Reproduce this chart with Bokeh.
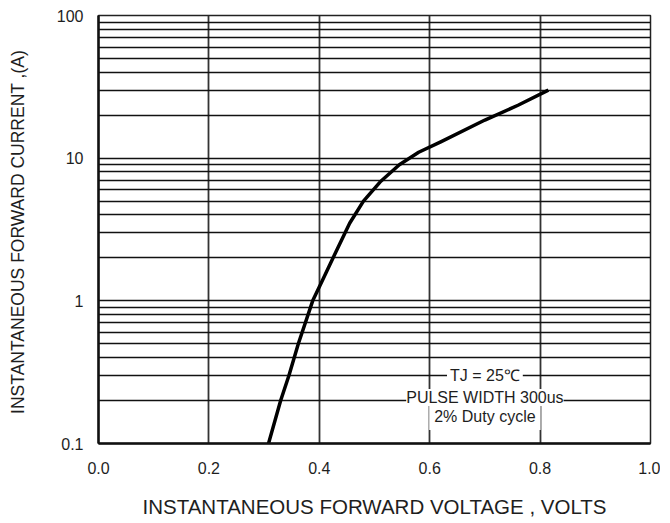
from bokeh.plotting import figure
from bokeh.models import FixedTicker, Label, ColumnDataSource
from bokeh.embed import file_html
from bokeh.resources import INLINE

# --- data ---
voltage = [0.308, 0.330, 0.345, 0.362, 0.388, 0.406, 0.430, 0.455, 0.480,
           0.510, 0.545, 0.580, 0.620, 0.700, 0.760, 0.815]
current = [0.1, 0.2, 0.3, 0.5, 1.0, 1.4, 2.2, 3.5, 5.0,
           6.8, 9.0, 11.0, 13.0, 18.5, 23.5, 30.0]

x_ticks = [0.0, 0.2, 0.4, 0.6, 0.8, 1.0]
x_tick_labels = ["0.0", "0.2", "0.4", "0.6", "0.8", "1.0"]
y_ticks = [0.1, 1, 10, 100]
y_tick_labels = ["0.1", "1", "10", "100"]
y_minor = [d * k for d in (0.1, 1, 10) for k in range(2, 10)]

notes = ["TJ = 25\u2103", "PULSE WIDTH 300us", "2% Duty cycle"]
note_x = 0.70
note_y = [0.3, 0.2]

FONT = "Liberation Sans"
TXT = "#1e1e1e"

p = figure(width=660, height=520, y_axis_type="log",
           x_range=(0.0, 1.0), y_range=(0.1, 100),
           output_backend="svg", toolbar_location=None,
           min_border_left=98, min_border_right=10,
           min_border_top=15, min_border_bottom=77)

src = ColumnDataSource(dict(v=voltage, i=current))
p.line("v", "i", source=src, line_color="black", line_width=3.5, line_join="round")

# axes
p.xaxis.ticker = FixedTicker(ticks=x_ticks)
p.xaxis.major_label_overrides = {t: s for t, s in zip(x_ticks, x_tick_labels)}
p.yaxis.ticker = FixedTicker(ticks=y_ticks, minor_ticks=y_minor)
p.yaxis.major_label_overrides = {t: s for t, s in zip(y_ticks, y_tick_labels)}

for ax in (p.xaxis[0], p.yaxis[0]):
    ax.major_tick_line_color = None
    ax.minor_tick_line_color = None
    ax.axis_line_color = "#111111"
    ax.axis_line_width = 2.5
    ax.major_label_text_font = FONT
    ax.major_label_text_font_size = "16px"
    ax.major_label_text_color = TXT
    ax.axis_label_text_font = FONT
    ax.axis_label_text_font_style = "normal"
    ax.axis_label_text_color = TXT

p.xaxis.major_label_standoff = 12
p.yaxis.major_label_standoff = 9
p.xaxis.axis_label = "INSTANTANEOUS FORWARD VOLTAGE , VOLTS"
p.xaxis.axis_label_text_font_size = "20.5px"
p.xaxis.axis_label_standoff = 18
p.yaxis.axis_label = "INSTANTANEOUS  FORWARD CURRENT ,(A)"
p.yaxis.axis_label_text_font_size = "17.5px"
p.yaxis.axis_label_standoff = 26

# grid
p.xgrid.ticker = FixedTicker(ticks=x_ticks)
p.xgrid.grid_line_color = "#333333"
p.xgrid.grid_line_width = 1.8
p.ygrid.grid_line_color = "#111111"
p.ygrid.grid_line_width = 1.6
p.ygrid.minor_grid_line_color = "#111111"
p.ygrid.minor_grid_line_width = 1.4

p.outline_line_color = "#222222"
p.outline_line_width = 1.5
p.background_fill_color = "white"
p.border_fill_color = "white"

# annotation block (bottom line first so upper boxes sit on top)
p.add_layout(Label(x=note_x, y=note_y[1], y_offset=-16, text=notes[2],
                   text_align="center", text_baseline="middle",
                   text_font=FONT, text_font_size="16px", text_color=TXT,
                   background_fill_color="white", padding=5))
p.add_layout(Label(x=note_x, y=note_y[1], y_offset=3, text=notes[1],
                   text_align="center", text_baseline="middle",
                   text_font=FONT, text_font_size="16px", text_color=TXT,
                   background_fill_color="white", padding=0))
p.add_layout(Label(x=note_x, y=note_y[0], text=notes[0],
                   text_align="center", text_baseline="middle",
                   text_font=FONT, text_font_size="16px", text_color=TXT,
                   background_fill_color="white", padding=3))

open("out.html", "w").write(file_html(p, INLINE))
